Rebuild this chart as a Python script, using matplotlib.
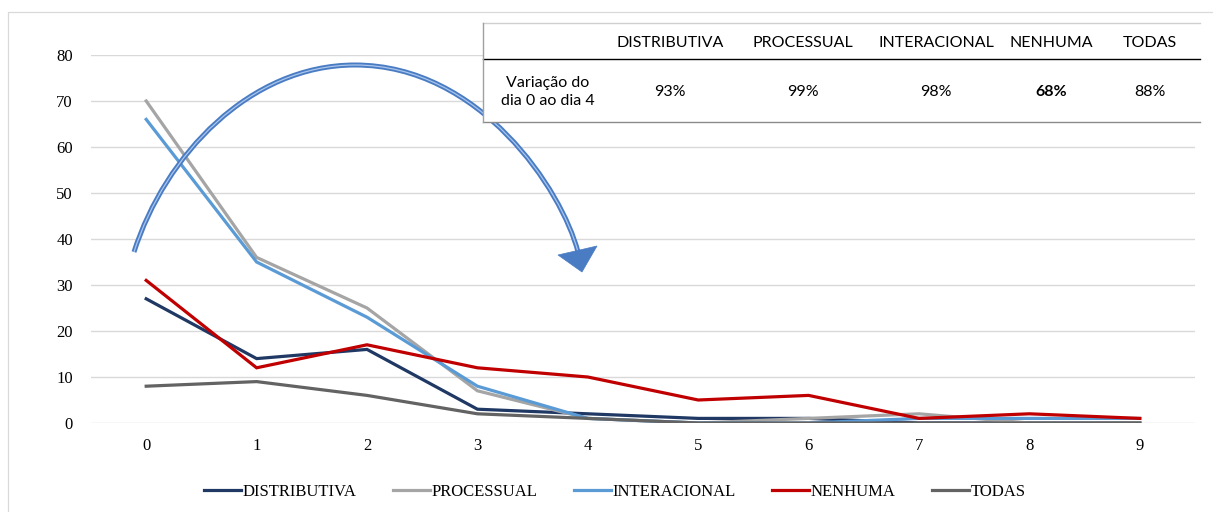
import matplotlib
matplotlib.use("Agg")
import matplotlib.pyplot as plt
from matplotlib.path import Path
from matplotlib.patches import PathPatch, Polygon, Rectangle
from matplotlib.transforms import Affine2D
from matplotlib.lines import Line2D

# Daily counts per justice type
days = [0, 1, 2, 3, 4, 5, 6, 7, 8, 9]
distributiva = [27, 14, 16, 3, 2, 1, 1, 0, 0, 0]
processual = [70, 36, 25, 7, 1, 0, 1, 2, 0, 0]
interacional = [66, 35, 23, 8, 1, 0, 0, 1, 1, 1]
nenhuma = [31, 12, 17, 12, 10, 5, 6, 1, 2, 1]
todas = [8, 9, 6, 2, 1, 0, 0, 0, 0, 0]

series_names = ["DISTRIBUTIVA", "PROCESSUAL", "INTERACIONAL", "NENHUMA", "TODAS"]
series_values = [distributiva, processual, interacional, nenhuma, todas]
series_colors = ["#1f3864", "#a5a5a5", "#5b9bd5", "#c00000", "#636363"]

# Summary table: change from day 0 to day 4
table_row_label = "Variação do\ndia 0 ao dia 4"
table_values = ["93%", "99%", "98%", "68%", "88%"]
table_bold = [False, False, False, True, False]

W, H = 1213, 512
fig = plt.figure(figsize=(W / 100, H / 100), dpi=100)
ax = fig.add_axes([91 / W, 1 - 423 / H, (1195 - 91) / W, (423 - 55) / H])

# pixel coordinates (origin top-left) -> figure
px = Affine2D().scale(1 / W, -1 / H).translate(0, 1) + fig.transFigure

# outer chart frame
fig.patches.append(Rectangle((8, 12), 1240, 560, transform=px, fill=False,
                             edgecolor="#d9d9d9", linewidth=0.9, zorder=0))

for name, vals, col in zip(series_names, series_values, series_colors):
    ax.plot(days, vals, color=col, linewidth=2.3, label=name,
            solid_joinstyle="miter", zorder=3)

ax.set_xlim(-0.5, 9.5)
ax.set_ylim(0, 80)
ax.set_yticks(range(0, 81, 10))
ax.set_xticks(days)
ax.grid(axis="y", color="#d9d9d9", linewidth=1.0, zorder=0)
ax.set_axisbelow(True)
for s in ax.spines.values():
    s.set_visible(False)
ax.tick_params(length=0, labelsize=12, colors="#000000")
ax.tick_params(axis="y", pad=13)
ax.tick_params(axis="x", pad=11)
for lab in ax.get_xticklabels() + ax.get_yticklabels():
    lab.set_fontfamily("Liberation Serif")

# curved arrow from day 0 towards day 4
verts = [(134, 252), (165, 155), (250, 65), (355, 65),
         (480, 65), (562, 190), (578, 252)]
codes = [Path.MOVETO, Path.CURVE4, Path.CURVE4, Path.CURVE4,
         Path.CURVE4, Path.CURVE4, Path.CURVE4]
arc_path = Path(verts, codes)
fig.patches.append(PathPatch(arc_path, transform=px, fill=False,
                             edgecolor="#4a7cc4", linewidth=3.6,
                             capstyle="butt", zorder=4))
fig.patches.append(PathPatch(arc_path, transform=px, fill=False,
                             edgecolor="#a9c6ec", linewidth=0.9,
                             capstyle="butt", zorder=5))
fig.patches.append(Polygon([(558, 255), (597, 246), (582, 272)], closed=True,
                           transform=px, facecolor="#4a7cc4",
                           edgecolor="#4a7cc4", linewidth=0.5, zorder=5))

# summary table box
fig.patches.append(Rectangle((483, 23), 717, 99, transform=px,
                             facecolor="white", edgecolor="none", zorder=6))
for xs, ys, c in [([483, 1200], [23, 23], "#cfcfcf"),
                  ([483, 1200], [59, 59], "#000000"),
                  ([483, 1200], [122, 122], "#8a8a8a"),
                  ([483, 483], [23, 122], "#a0a0a0")]:
    fig.lines.append(Line2D(xs, ys, transform=px, color=c,
                            linewidth=1.0, zorder=7))

col_x = [670, 803, 936, 1051, 1150]
tfont = "Lato"
for x, name, val, b in zip(col_x, series_names, table_values, table_bold):
    fig.text(x / W, 1 - 43 / H, name, ha="center", va="center",
             fontsize=11.5, family=tfont, zorder=8)
    fig.text(x / W, 1 - 92 / H, val, ha="center", va="center",
             fontsize=11.5, family=tfont, zorder=8,
             fontweight="bold" if b else "normal")
fig.text(548 / W, 1 - 92 / H, table_row_label, ha="center", va="center",
         fontsize=11.5, family=tfont, linespacing=1.45, zorder=8)

leg = fig.legend(loc="center", bbox_to_anchor=(615 / W, 1 - 492 / H),
                 ncol=5, frameon=False, handlelength=2.2, handletextpad=0.1,
                 columnspacing=2.2, prop={"family": "Liberation Serif", "size": 12})

fig.savefig("out.png", dpi=100, facecolor="white")
